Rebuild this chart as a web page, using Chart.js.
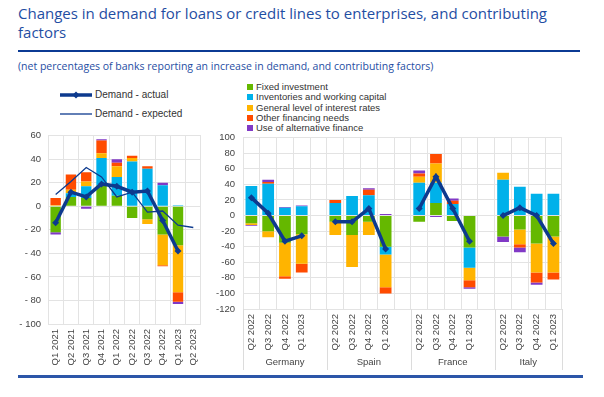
<!DOCTYPE html>
<html>
<head>
<meta charset="utf-8">
<script src="https://cdn.jsdelivr.net/npm/chart.js@4/dist/chart.umd.min.js"></script>
<style>
	body { margin: 0; width: 604px; height: 397px; background: #fff; position: relative; overflow: hidden; font-family: 'Liberation Sans', Arial, sans-serif; }
	.title { position: absolute; left: 18px; top: 4px; width: 570px; font-family: 'Open Sans', sans-serif; font-size: 15px; line-height: 19px; color: #1f4ea3; }
	.rule-top { position: absolute; left: 18px; top: 50px; width: 562px; height: 2px; background: #0b3a94; }
	.subtitle { position: absolute; left: 18px; top: 59px; font-family: 'Open Sans', sans-serif; font-size: 10.5px; color: #1f4ea3; }
	.rule-bottom { position: absolute; left: 18px; top: 375px; width: 565px; height: 3px; background: #2c56a8; }
	.legend-left { position: absolute; left: 60px; top: 85px; font-size: 10px; color: #333; }
	.legend-left div { height: 19px; display: flex; align-items: center; }
	.legend-left svg { margin-right: 3px; }
	.legend-right { position: absolute; left: 247px; top: 82px; font-size: 9.5px; color: #333; }
	.legend-right div { height: 10.3px; line-height: 10.3px; display: flex; align-items: center; }
	.legend-right span { display: inline-block; width: 6px; height: 6px; margin-right: 3px; }
	canvas { position: absolute; }
</style>
</head>
<body>
<div class="title">Changes in demand for loans or credit lines to enterprises, and contributing factors</div>
<div class="rule-top"></div>
<div class="subtitle">(net percentages of banks reporting an increase in demand, and contributing factors)</div>

<div class="legend-left">
	<div><svg width="32" height="8"><line x1="0" y1="4" x2="32" y2="4" stroke="#0d3a8e" stroke-width="3.5"/><path d="M16 0.5 L19.5 4 L16 7.5 L12.5 4 Z" fill="#0d3a8e"/></svg>Demand - actual</div>
	<div><svg width="32" height="8"><line x1="0" y1="4" x2="32" y2="4" stroke="#0d3a8e" stroke-width="1.3"/></svg>Demand - expected</div>
</div>
<div class="legend-right" id="legendRight"></div>

<canvas id="leftChart" width="195" height="250" style="left:15px; top:123px;"></canvas>
<canvas id="rightChart" width="355" height="254" style="left:215px; top:124px;"></canvas>
<div class="rule-bottom"></div>

<script>
// euro area panel
const quartersEA = ['Q1 2021', 'Q2 2021', 'Q3 2021', 'Q4 2021', 'Q1 2022', 'Q2 2022', 'Q3 2022', 'Q4 2022', 'Q1 2023', 'Q2 2023'];
const fixedEA = [-22, 8, 7, 18, 9, -10, -11, -24, -33, null];
const inventoriesEA = [0, 3, 10, 23, 16, 38, 32, 18, 1, null];
const ratesEA = [1, 3, 4, 4, 9, 3, -4, -26, -40, null];
const otherEA = [6, 13, 8, 11, 3, 2, 2, -1, -8, null];
const alternativeEA = [-2, 0, -2, 1, 3, 0, 0, 2, -2, null];
const actualEA = [-14, 12, 8, 19, 17, 12, 13, -12, -38, null];
const expectedEA = [10, 21, 33, 25, 8, 12, -5, -4, -16, -18];

// country panel (empty slot between countries)
const quartersCountry = ['Q2 2022', 'Q3 2022', 'Q4 2022', 'Q1 2023', '',
	'Q2 2022', 'Q3 2022', 'Q4 2022', 'Q1 2023', '',
	'Q2 2022', 'Q3 2022', 'Q4 2022', 'Q1 2023', '',
	'Q2 2022', 'Q3 2022', 'Q4 2022', 'Q1 2023'];
const countries = ['Germany', 'Spain', 'France', 'Italy'];
const fixedC = [-10, -20, -35, -24, null, -8, -25, -8, -40, null, -8, 16, -7, -41, null, -27, -18, -36, -27];
const inventoriesC = [38, 41, 10, 12, null, 16, 25, 26, -10, null, 42, 26, 15, -26, null, 46, 37, 28, 28];
const ratesC = [-2, -8, -43, -38, null, -17, -41, -17, -42, null, 8, 25, 0, -16, null, 9, -19, -37, -46];
const otherC = [0, 2, -3, -11, null, 4, 0, 7, -8, null, 4, 12, 4, -9, null, 0, -4, -13, -9];
const alternativeC = [-1, 3, 1, 1, null, 0, 0, 2, 2, null, 4, -2, 3, -2, null, -7, -6, -3, 0];
const actualC = [23, 3, -33, -26, null, -8, -8, 9, -43, null, 9, 50, 9, -33, null, 0, 10, 0, -36];

const factorNames = ['Fixed investment', 'Inventories and working capital', 'General level of interest rates', 'Other financing needs', 'Use of alternative finance'];
const factorColors = ['#65b800', '#00b1ea', '#ffb400', '#ff4b00', '#8139c6'];
const lineColor = '#0d3a8e';
const gridColor = '#e3e3e3';
const tickFont = { family: "'Liberation Sans', Arial, sans-serif", size: 9.5 };

document.getElementById('legendRight').innerHTML = factorNames
	.map((name, i) => `<div><span style="background:${factorColors[i]}"></span>${name}</div>`)
	.join('');

function barSets(series, barPct) {
	return series.map((data, i) => ({
		type: 'bar',
		label: factorNames[i],
		data: data,
		backgroundColor: factorColors[i],
		stack: 'factors',
		order: 2,
		barPercentage: barPct,
		categoryPercentage: 1,
	}));
}

const actualStyle = {
	type: 'line',
	borderColor: lineColor,
	backgroundColor: lineColor,
	borderWidth: 3.5,
	pointStyle: 'rectRot',
	pointRadius: 3.5,
	pointBorderWidth: 0,
	tension: 0,
	stack: 'actual',
	order: 0,
};

Chart.defaults.font.family = tickFont.family;
Chart.defaults.color = '#444';

new Chart(document.getElementById('leftChart'), {
	data: {
		labels: quartersEA,
		datasets: [
			{ ...actualStyle, label: 'Demand - actual', data: actualEA },
			{ type: 'line', label: 'Demand - expected', data: expectedEA, borderColor: lineColor, borderWidth: 1.3, pointRadius: 0, stack: 'expected', order: 1 },
			...barSets([fixedEA, inventoriesEA, ratesEA, otherEA, alternativeEA], 0.68),
		],
	},
	options: {
		responsive: false,
		animation: false,
		layout: { padding: { top: 2, right: 6 } },
		plugins: { legend: { display: false }, tooltip: { enabled: false } },
		scales: {
			x: {
				stacked: true,
				grid: { color: gridColor, offset: true, drawTicks: false },
				border: { color: gridColor },
				ticks: { font: tickFont, minRotation: 90, maxRotation: 90, padding: 5, autoSkip: false },
				afterFit: (scale) => { scale.height = 49; },
			},
			y: {
				stacked: true,
				min: -100,
				max: 60,
				grid: { color: gridColor, drawTicks: false },
				border: { color: gridColor },
				ticks: {
					font: tickFont,
					stepSize: 20,
					padding: 7,
					callback: (v) => (v < 0 ? '- ' + Math.abs(v) : v),
				},
				afterFit: (scale) => { scale.width = 33; },
			},
		},
	},
});

const groupLabels = {
	id: 'groupLabels',
	afterDraw(chart) {
		const { ctx, scales: { x }, chartArea } = chart;
		const step = x.getPixelForValue(1) - x.getPixelForValue(0);
		const starts = [0, 5, 10, 15];
		const ends = [5, 10, 15, quartersCountry.length];
		ctx.save();
		ctx.strokeStyle = '#dcdcdc';
		ctx.lineWidth = 1;
		ctx.fillStyle = '#444';
		ctx.font = '9.5px ' + tickFont.family;
		ctx.textAlign = 'center';
		ctx.textBaseline = 'middle';
		countries.forEach((name, i) => {
			const left = x.getPixelForValue(starts[i]) - step / 2;
			const right = x.getPixelForValue(ends[i] - 1) + step / 2;
			[left, right].forEach((px) => {
				ctx.beginPath();
				ctx.moveTo(Math.round(px) + 0.5, chartArea.bottom);
				ctx.lineTo(Math.round(px) + 0.5, chartArea.bottom + 61);
				ctx.stroke();
			});
			ctx.fillText(name, (left + right) / 2, chartArea.bottom + 53);
		});
		ctx.restore();
	},
};

new Chart(document.getElementById('rightChart'), {
	data: {
		labels: quartersCountry,
		datasets: [
			{ ...actualStyle, label: 'Demand - actual', data: actualC },
			...barSets([fixedC, inventoriesC, ratesC, otherC, alternativeC], 0.7),
		],
	},
	plugins: [groupLabels],
	options: {
		responsive: false,
		animation: false,
		layout: { padding: { top: 6, right: 7 } },
		plugins: { legend: { display: false }, tooltip: { enabled: false } },
		scales: {
			x: {
				stacked: true,
				grid: { color: gridColor, offset: true, drawTicks: false },
				border: { color: gridColor },
				ticks: { font: tickFont, minRotation: 90, maxRotation: 90, padding: 5, autoSkip: false },
				afterFit: (scale) => { scale.height = 69; },
			},
			y: {
				stacked: true,
				min: -120,
				max: 100,
				grid: { color: gridColor, drawTicks: false },
				border: { color: gridColor },
				ticks: { font: tickFont, stepSize: 20, padding: 8 },
				afterFit: (scale) => { scale.width = 28; },
			},
		},
	},
});
</script>
</body>
</html>
